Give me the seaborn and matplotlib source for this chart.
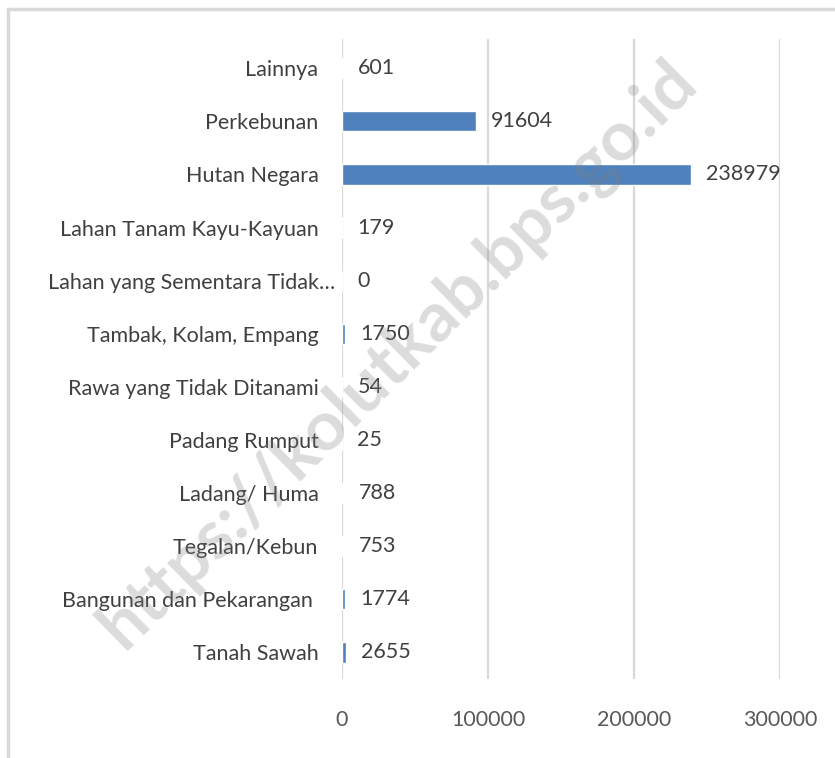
import matplotlib
matplotlib.use("Agg")
import matplotlib.pyplot as plt
import matplotlib.transforms as mtrans
import pandas as pd
import seaborn as sb
from matplotlib.lines import Line2D

# luas lahan menurut penggunaan (ha)
categories = ['Lainnya', 'Perkebunan', 'Hutan Negara', 'Lahan Tanam Kayu-Kayuan',
              'Lahan yang Sementara Tidak\u2026', 'Tambak, Kolam, Empang',
              'Rawa yang Tidak Ditanami', 'Padang Rumput', 'Ladang/ Huma',
              'Tegalan/Kebun', 'Bangunan dan Pekarangan ', 'Tanah Sawah']
values = [601, 91604, 238979, 179, 0, 1750, 54, 25, 788, 753, 1774, 2655]
xticks = [0, 100000, 200000, 300000]
watermark = 'https://kolutkab.bps.go.id'

sb.set_style('white')
plt.rcParams['font.family'] = ['Lato', 'DejaVu Sans']

df = pd.DataFrame({'kategori': categories, 'luas': values})

fig = plt.figure(figsize=(8.35, 7.58), dpi=100)
ax = fig.add_axes([0.4096, 0.1042, 0.5246, 0.8443])

sb.barplot(data=df, y='kategori', x='luas', orient='h', color='#4F81BD',
           saturation=1, width=0.38, ax=ax, zorder=2)

ax.set_xlim(0, 300000)
ax.set_ylim(len(categories) - 0.5, -0.55)
ax.set_xticks(xticks)
ax.set_xticklabels([str(t) for t in xticks])
ax.grid(axis='x', color='#D9D9D9', linewidth=1.6, zorder=0)
ax.set_axisbelow(True)
for s in ax.spines.values():
    s.set_visible(False)
ax.set_xlabel('')
ax.set_ylabel('')
ax.tick_params(axis='y', length=0, pad=17, labelsize=15.5, labelcolor='#404040')
ax.tick_params(axis='x', length=0, pad=22, labelsize=15.5, labelcolor='#595959')

# truncated label sits closer to the axis, like in the original
lbl = ax.get_yticklabels()[4]
lbl.set_transform(lbl.get_transform() + mtrans.ScaledTranslation(12 / 72, 0, fig.dpi_scale_trans))

for i, v in enumerate(values):
    ax.annotate(str(v), (v, i), xytext=(11, 0), textcoords='offset points',
                va='center', ha='left', fontsize=15.5, color='#404040')

# frame of the chart area
fig.add_artist(Line2D([0.0096, 1.0], [0.988, 0.988], color='#D9D9D9', linewidth=2.5,
                      transform=fig.transFigure))
fig.add_artist(Line2D([0.0096, 0.0096], [0.0, 0.988], color='#D9D9D9', linewidth=2.5,
                      transform=fig.transFigure))

fig.text(0.478, 0.532, watermark, rotation=44.5, ha='center', va='center',
         fontsize=50, fontweight='bold', color='#808080', alpha=0.28, zorder=10)

fig.savefig('out.png', dpi=100)
